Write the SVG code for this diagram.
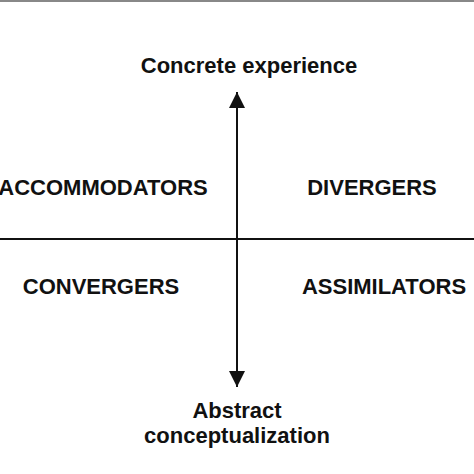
<svg xmlns="http://www.w3.org/2000/svg" width="474" height="474" viewBox="0 0 474 474">
<style>
text{font-family:"Liberation Sans",Arial,sans-serif;font-weight:bold;font-size:22px;fill:#111;text-anchor:middle}
.ln{stroke:#111;stroke-width:2;fill:none}
</style>
<defs>
<marker id="ah" viewBox="0 0 16 16" refX="16" refY="8" markerWidth="16" markerHeight="16" markerUnits="userSpaceOnUse" orient="auto">
<path d="M0,0 L16,8 L0,16 Z" fill="#111"/>
</marker>
</defs>
<rect width="474" height="474" fill="#fff"/>
<rect x="0" y="0" width="474" height="2" fill="#888"/>
<g id="connectors">
<line class="ln" x1="0" y1="239" x2="474" y2="239"/>
<line class="ln" x1="237" y1="239" x2="237" y2="92" marker-end="url(#ah)"/>
<line class="ln" x1="237" y1="239" x2="237" y2="387" marker-end="url(#ah)"/>
</g>
<g id="concrete"><text x="249" y="73">Concrete experience</text></g>
<g id="accommodators"><text x="103" y="195">ACCOMMODATORS</text></g>
<g id="divergers"><text x="372" y="195">DIVERGERS</text></g>
<g id="convergers"><text x="101" y="294">CONVERGERS</text></g>
<g id="assimilators"><text x="384" y="294">ASSIMILATORS</text></g>
<g id="abstract"><text x="237" y="418">Abstract</text><text x="237" y="443">conceptualization</text></g>
</svg>
